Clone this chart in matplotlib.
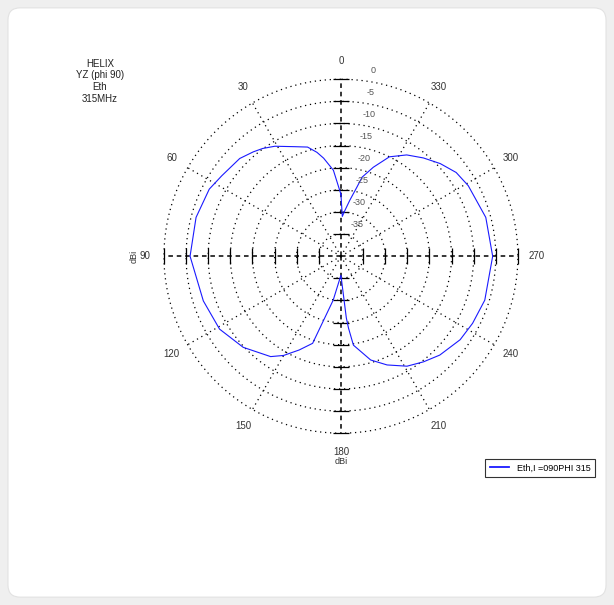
import numpy as np
import matplotlib
matplotlib.use("Agg")
import matplotlib.pyplot as plt
from matplotlib.patches import FancyBboxPatch

plt.rcParams["font.family"] = ["Liberation Sans", "DejaVu Sans"]

# Eth pattern, angle in degrees (0 at top, counter-clockwise), gain in dBi
theta_deg = [0, 5, 10, 13, 17, 23, 31, 36, 40, 46, 56, 63, 75, 90,
             108, 121, 133, 145, 150, 156, 162, 170, 180,
             185, 186, 188, 196, 203, 211, 218, 225, 235, 243, 253, 270,
             285, 299, 306, 313, 320, 327, 334, 340, 345, 347, 351, 355, 358, 360]
gain_dbi = [-26.0, -20.5, -17.5, -15.9, -14.2, -13.1, -11.0, -9.9, -9.2, -8.2, -7.5, -6.6, -6.1, -5.9,
            -7.3, -8.0, -9.8, -12.3, -14.1, -16.8, -19.3, -29.9, -35.7,
            -26.0, -23.7, -19.7, -15.6, -13.3, -11.0, -9.7, -8.4, -7.1, -6.6, -6.0, -5.7,
            -6.1, -7.1, -7.8, -9.3, -11.0, -12.7, -15.0, -18.6, -21.5, -24.0, -27.2, -29.6, -31.0, -26.0]

ring_vals = [-35, -30, -25, -20, -15, -10, -5, 0]
ring_labels = ["-35", "-30", "-25", "-20", "-15", "-10", "-5", "0"]
angle_vals = [0, 30, 60, 90, 120, 150, 180, 210, 240, 270, 300, 330]
title_lines = ["HELIX", "YZ (phi 90)", "Eth", "315MHz"]
legend_label = "Eth,I =090PHI 315"

fig = plt.figure(figsize=(6.14, 6.05), dpi=100)
fig.patch.set_facecolor("#efefef")
card = FancyBboxPatch((0.013, 0.013), 0.974, 0.974, boxstyle="round,pad=0,rounding_size=0.02",
                      transform=fig.transFigure, facecolor="white", edgecolor="#e2e2e2",
                      lw=0.8, zorder=-10)
fig.patches.append(card)

ax = fig.add_axes([0.267, 0.284, 0.5765, 0.585], projection="polar")
ax.set_theta_zero_location("N")
ax.set_theta_direction(1)
ax.set_ylim(-40, 0)
ax.grid(False)
ax.set_xticks([])
ax.set_yticks([])
ax.spines["polar"].set_visible(False)
ax.patch.set_visible(False)

# rings
circ = np.linspace(0, 2 * np.pi, 361)
for r in ring_vals:
    ax.plot(circ, np.full_like(circ, r), color="black", ls=(0, (1, 3)), lw=0.9, clip_on=False)

# spokes
for a in angle_vals:
    if a % 90:
        ax.plot([np.deg2rad(a)] * 2, [-40, 0], color="black", ls=(0, (1, 3)), lw=0.9)
    else:
        ax.plot([np.deg2rad(a)] * 2, [-40, 0], color="black", ls=(0, (3, 2.5)), lw=1.1)

# tick marks on the main axes
for a in [0, 180]:
    ax.plot([np.deg2rad(a)] * len(ring_vals), ring_vals, ls="none", marker="_",
            ms=11, mew=0.9, color="black", clip_on=False)
for a in [90, 270]:
    ax.plot([np.deg2rad(a)] * len(ring_vals), ring_vals, ls="none", marker="|",
            ms=11, mew=0.9, color="black", clip_on=False)

# pattern
ax.plot(np.deg2rad(theta_deg), gain_dbi, color="#1a1aff", lw=0.8, label=legend_label)

# angle labels
for a in angle_vals:
    ax.text(np.deg2rad(a), 4.2, str(a), ha="center", va="center", fontsize=7,
            color="#333333", clip_on=False)

# ring labels
for r, lab in zip(ring_vals, ring_labels):
    ax.annotate(lab, xy=(np.deg2rad(-6), r), xytext=(10, 7), textcoords="offset points",
                ha="center", va="center", fontsize=6.5, color="#555555", annotation_clip=False)

fig.text(134 / 614, 1 - 256 / 605, "dBi", rotation=90, ha="center", va="center",
         fontsize=6.5, color="#333333")
fig.text(341 / 614, 1 - 461 / 605, "dBi", ha="center", va="center",
         fontsize=6.5, color="#333333")

for i, line in enumerate(title_lines):
    fig.text(100 / 614, 1 - (64 + i * 11.5) / 605, line, ha="center", va="center",
             fontsize=7, color="#222222")

leg = fig.legend(loc="center", bbox_to_anchor=(540 / 614, 1 - 468 / 605), fontsize=6.5,
                 frameon=True, fancybox=False, handlelength=2.2, borderpad=0.5)
leg.get_frame().set_edgecolor("black")
leg.get_frame().set_linewidth(0.8)
leg.get_lines()[0].set_linewidth(1.3)

fig.savefig("out.png", dpi=100, facecolor=fig.get_facecolor())
